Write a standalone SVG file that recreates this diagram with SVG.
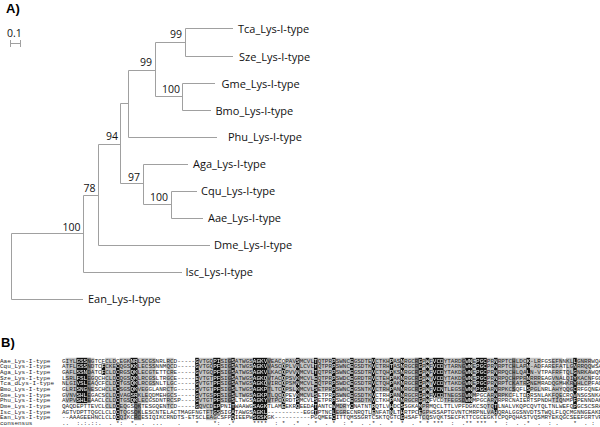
<svg xmlns="http://www.w3.org/2000/svg" width="600" height="427" viewBox="0 0 600 427">
<style>
.br{stroke:#a0a0a0;stroke-width:1;fill:none}
.lab{font-family:"Open Sans","DejaVu Sans",sans-serif;font-size:11px;fill:#111}
.bs{font-family:"Open Sans","DejaVu Sans",sans-serif;font-size:10.5px;fill:#111;text-anchor:end}
.hd{font-family:"Liberation Sans",Arial,sans-serif;font-weight:bold;font-size:13px;fill:#000}
.aln{font-family:"Liberation Mono","DejaVu Sans Mono",monospace;font-size:6px}
.nm{font-family:"Liberation Mono","DejaVu Sans Mono",monospace;font-size:6px;fill:#222}
</style>
<defs>
<g id="blk" transform="translate(62,357.8) scale(3.6,5.67)">
<rect x="4" y="0" width="3" height="8"/>
<rect x="11" y="1" width="1" height="2"/>
<rect x="15" y="1" width="1" height="10"/>
<rect x="19" y="0" width="2" height="8"/>
<rect x="37" y="0" width="1" height="9"/>
<rect x="42" y="0" width="2" height="10"/>
<rect x="47" y="0" width="1" height="11"/>
<rect x="53" y="0" width="4" height="11"/>
<rect x="61" y="1" width="1" height="8"/>
<rect x="65" y="0" width="1" height="9"/>
<rect x="70" y="0" width="1" height="10"/>
<rect x="75" y="0" width="1" height="11"/>
<rect x="80" y="0" width="1" height="9"/>
<rect x="86" y="0" width="1" height="10"/>
<rect x="91" y="0" width="1" height="10"/>
<rect x="94" y="0" width="1" height="11"/>
<rect x="99" y="0" width="1" height="10"/>
<rect x="101" y="0" width="1" height="8"/>
<rect x="103" y="0" width="3" height="7"/>
<rect x="112" y="0" width="2" height="8"/>
<rect x="115" y="0" width="3" height="6"/>
<rect x="120" y="0" width="1" height="10"/>
<rect x="129" y="0" width="1" height="7"/>
<rect x="142" y="0" width="1" height="9"/>
</g>
<g id="seq" class="aln">
<text x="62" y="362.6">GIYLGSSNGTCFCLDCEGKNRLSCGSNRLRCD-----GVTGQPISIGSATWGSAGKVVEACQPAVSMCVLTQTPRPSWNCEGSDTEVCTKHPASNRGCRGPWFVCDYTARDGWNEPGCPRNRPTCHLDCK-LRFGSEFNNKLLGNRRWQA</text>
<text x="62" y="368.27">ATFLGSSNDTCFCKECQGSKKLECSSNNMQCD-----GVTGQPFSIGSATWGSAGKVVASCQPLVNLCVLTQTPRPSWNCEGSDTKVCTRHTASNRGCRGPWFVCDYTARNGWNEPGCPRNRPTCHLAPN-ADFAREFATLGNRRQQWSA</text>
<text x="62" y="373.94">GAFLSSNDATCFCLDCRGSQKLECGTETTCRE-----GVTGQPFSIGSATWGSAGKVLKACQPVVNMCVLTQTPRPSWNCEGSDTRVCTQHPKSNRGCRGPWFVCDYTAKDGWNEPGCPRNRPQCHLQALN-VTPAFRFTQLGNRKAWQN</text>
<text x="62" y="379.61">LSRLFSLEGQCHCLDCQGSQKLRCGSLTRGCE-----EVTGTPFSIGSATWGSAGKQVTACQPSVKMCVLEQTPRPSWDCEGRDTRVCTEHPAKNRGCRGPWYVCDYTAKDGWNEPGCPRNRPQCHPPRNRRREAGVNALQIYKACNFGQ</text>
<text x="62" y="385.28">NLGIVSLEAQCFCLDCTGSQKLRCGSNLTLGC-----GVTGTPFSIGSATWGSAGKQVIRCQPSMNMCVLEQTPRPSWDCEGSDTRVCTQHPAKNRGCRGPWYVCDYTAKDGWNEPGCPRNRPTCKATRSNEMRADQGMHKRYHLCPFAQ</text>
<text x="62" y="390.95">GLRISNGNESCHCLECSGSQKVEGGLANRCTG-----GVTGTPFSIGSLTWGSAGKPTLTCQPSLKMCVLSETPRPSWNCEGSNTKVCTRHPANNRGCRGPWFVCNTLEGSDWNMPGCARNRPKCSQFLSPGLNRLAHYQQGCRFGQNEA</text>
<text x="62" y="396.62">GVNVSHLEGACSCLDCVAGSRKLEQDMEHGCS-----GVTGSPFSIGSLTWGSAGKPTLQCQPEVKMCVLSETPRPSWNCEGSDTKVCTRHPANNRGCRGPWFVCDTNEGSDWNMPGCARNRPKCFLTDRRSNLAKFQECRQWNSGSNKA</text>
<text x="62" y="402.29">AVPVSHLEAACLCLDCTGSQKLECGSDNTRCSP----GVTGTPFSIGSLTWGSAGKYVTPCQRDTSMCVLSETPRPSWDCEGSDTKVCTKHPANNRGCRGPWFVCDTFEGSDWNMPGCARNRPRCNAIERTSPNDHTIQNMPFPENNDAK</text>
<text x="62" y="407.96">QAQDEPTTEVCLCLDCEQGSQKTESGQENTCD-----GQVCDEPPNITWAAWGSAGKTLAMEEKRQEEDATANTCWMDRYCNATNTRQTLVHDCSSGKAMPRMQCLTTLVPFDGKCSQTQTLNALVKQPCQVTQLTNLWEFQPGCSCSRA</text>
<text x="62" y="413.63">AGTVDPTTQGCLCLDCTQGSQKLESCNTELACTMAGFNGTFTGSSIGATAWGSAGKL----------EGGTPTNCLEGRECNRQTLENFATNLTHRTPCEGPHSSAPTGVNTCMRPNLVAHQRALGGSNVDTSTWQLFLQCMGNNGEAKD</text>
<text x="62" y="419.3">--AAAGEEHNCLCLDCQIKCRCESIQIKCRNDTS-ETSCLEAGCSFPQIEEPWSGSKGK----------PGQMEECITTQMSSGRTCSKTQGTCGHSAFTCQSVQKTSECFKTTCGCEGKTCPQPQHASTVQSMRYEKQGCSEEFGRTVPA</text>
<text x="62" y="424.97" xml:space="preserve" style="white-space:pre">..  :.:.::.  . *:  *. .  ...    .    *    *:  .*     ****  : *  .*  . *  . *  : *  . .* .  *  *  . * * ***  :  .** ***  *  :  . .*  .  : .    *  . :  </text>
</g>
<mask id="m" maskUnits="userSpaceOnUse" x="0" y="0" width="600" height="427">
<use href="#blk" fill="#fff"/>
</mask>
</defs>

<text class="hd" x="6" y="13">A)</text>

<g id="scalebar">
<text class="lab" x="7" y="37" style="font-size:10.5px">0.1</text>
<path class="br" d="M10.5,43.5 H20.5 M10.5,40 V47 M20.5,40 V47"/>
</g>

<g id="connectors">
<path class="br" d="M11.5,233.5 V299.5 M11.5,299.5 H83 M11.5,233.5 H83.5 M83.5,195.5 V272.5 M83.5,272.5 H182 M83.5,195.5 H98.5 M98.5,144.5 V245.5 M98.5,245.5 H210 M98.5,144.5 H120.5 M120.5,103.5 V183.5 M120.5,103.5 H128.5 M128.5,70.5 V137.5 M128.5,137.5 H217 M128.5,70.5 H155.5 M155.5,42.5 V96.5 M155.5,42.5 H185.5 M185.5,28.5 V56.5 M185.5,28.5 H233 M185.5,56.5 H233 M155.5,96.5 H182.5 M182.5,83.5 V110.5 M182.5,83.5 H215 M182.5,110.5 H211 M120.5,183.5 H143.5 M143.5,164.5 V204.5 M143.5,164.5 H188 M143.5,204.5 H171.5 M171.5,191.5 V218.5 M171.5,191.5 H197 M171.5,218.5 H203"/>
</g>

<g id="leaf-Tca"><text class="lab" x="238" y="32.5">Tca_Lys-I-type</text></g>
<g id="leaf-Sze"><text class="lab" x="239" y="60.5">Sze_Lys-I-type</text></g>
<g id="leaf-Gme"><text class="lab" x="221.5" y="87.5">Gme_Lys-I-type</text></g>
<g id="leaf-Bmo"><text class="lab" x="215.5" y="114.5">Bmo_Lys-I-type</text></g>
<g id="leaf-Phu"><text class="lab" x="228" y="141">Phu_Lys-I-type</text></g>
<g id="leaf-Aga"><text class="lab" x="193" y="168">Aga_Lys-I-type</text></g>
<g id="leaf-Cqu"><text class="lab" x="201" y="195">Cqu_Lys-I-type</text></g>
<g id="leaf-Aae"><text class="lab" x="208" y="222">Aae_Lys-I-type</text></g>
<g id="leaf-Dme"><text class="lab" x="214" y="249">Dme_Lys-I-type</text></g>
<g id="leaf-Isc"><text class="lab" x="185.5" y="276">Isc_Lys-I-type</text></g>
<g id="leaf-Ean"><text class="lab" x="88" y="303.3">Ean_Lys-I-type</text></g>

<g id="bs-1"><text class="bs" x="182" y="38.3">99</text></g>
<g id="bs-2"><text class="bs" x="152" y="66">99</text></g>
<g id="bs-3"><text class="bs" x="180" y="92.5">100</text></g>
<g id="bs-4"><text class="bs" x="118" y="140">94</text></g>
<g id="bs-5"><text class="bs" x="140" y="180.5">97</text></g>
<g id="bs-6"><text class="bs" x="168" y="200.8">100</text></g>
<g id="bs-7"><text class="bs" x="95.5" y="191.5">78</text></g>
<g id="bs-8"><text class="bs" x="80.5" y="230.5">100</text></g>

<text class="hd" x="1" y="347">B)</text>

<g id="alignment">
<g id="light" fill="#c4c4c4" transform="translate(62,357.8) scale(3.6,5.67)">
<rect x="1" y="0" width="3" height="8"/>
<rect x="7" y="0" width="2" height="6"/>
<rect x="12" y="0" width="3" height="9"/>
<rect x="16" y="0" width="3" height="8"/>
<rect x="21" y="0" width="3" height="8"/>
<rect x="24" y="0" width="2" height="5"/>
<rect x="29" y="0" width="2" height="9"/>
<rect x="38" y="0" width="4" height="9"/>
<rect x="44" y="0" width="3" height="8"/>
<rect x="48" y="0" width="5" height="7"/>
<rect x="57" y="0" width="4" height="8"/>
<rect x="62" y="0" width="3" height="6"/>
<rect x="66" y="0" width="4" height="7"/>
<rect x="71" y="0" width="4" height="6"/>
<rect x="76" y="0" width="4" height="7"/>
<rect x="81" y="0" width="5" height="8"/>
<rect x="87" y="0" width="4" height="6"/>
<rect x="92" y="0" width="2" height="7"/>
<rect x="95" y="0" width="4" height="8"/>
<rect x="100" y="0" width="1" height="8"/>
<rect x="102" y="0" width="1" height="7"/>
<rect x="106" y="0" width="6" height="8"/>
<rect x="114" y="0" width="1" height="7"/>
<rect x="118" y="0" width="2" height="8"/>
<rect x="121" y="0" width="4" height="7"/>
<rect x="126" y="0" width="3" height="5"/>
<rect x="130" y="0" width="3" height="6"/>
<rect x="136" y="0" width="3" height="8"/>
<rect x="140" y="0" width="2" height="6"/>
<rect x="143" y="0" width="4" height="5"/>
<rect x="16" y="8" width="2" height="3"/>
<rect x="40" y="9" width="3" height="2"/>
<rect x="76" y="8" width="3" height="2"/>
<rect x="100" y="8" width="2" height="3"/>
<rect x="118" y="8" width="2" height="2"/>
</g>
<g id="mid" fill="#808080" transform="translate(62,357.8) scale(3.6,5.67)">
<rect x="7" y="0" width="1" height="8"/>
<rect x="20" y="8" width="2" height="3"/>
<rect x="46" y="0" width="1" height="8"/>
<rect x="57" y="0" width="1" height="8"/>
<rect x="98" y="0" width="1" height="6"/>
<rect x="111" y="0" width="1" height="8"/>
<rect x="125" y="0" width="1" height="6"/>
</g>
<use href="#blk" fill="#111"/>
<g id="names" class="nm">
<text x="0" y="362.6">Aae_Lys-I-type</text>
<text x="0" y="368.27">Cqu_Lys-I-type</text>
<text x="0" y="373.94">Aga_Lys-I-type</text>
<text x="0" y="379.61">Sze_Lys-I-type</text>
<text x="0" y="385.28">Tca_dLys-I-type</text>
<text x="0" y="390.95">Bmo_Lys-I-type</text>
<text x="0" y="396.62">Gme_Lys-I-type</text>
<text x="0" y="402.29">Phu_Lys-I-type</text>
<text x="0" y="407.96">Dme_Lys-I-type</text>
<text x="0" y="413.63">Isc_Lys-I-type</text>
<text x="0" y="419.3">Ean_Lys-I-type</text>
<text x="0" y="424.97">consensus</text>
</g>
<use href="#seq" fill="#1a1a1a"/>
<use href="#seq" fill="#fff" mask="url(#m)"/>
</g>
</svg>
